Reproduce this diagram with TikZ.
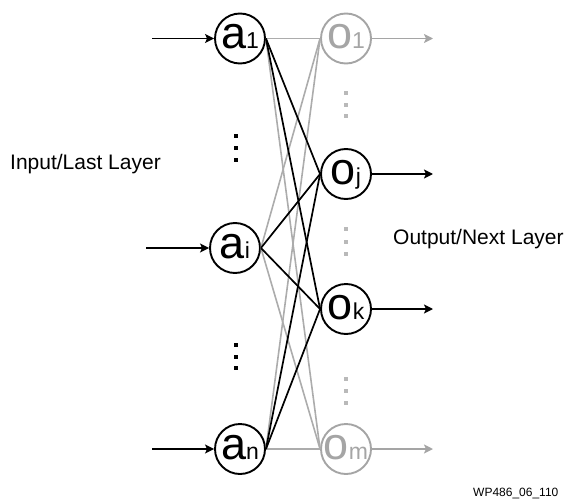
\documentclass[tikz,border=0pt]{standalone}
\usepackage{fontspec}
\setmainfont{Liberation Sans}
\usetikzlibrary{arrows.meta}
\definecolor{ngray}{RGB}{165,165,165}
\definecolor{lgray}{RGB}{172,172,172}
\definecolor{dgray}{RGB}{185,185,185}
\newcommand{\nlab}[2]{{\fontsize{45}{45}\selectfont #1}{\fontsize{23}{23}\selectfont #2}}
\tikzset{
  neuron/.style={circle, draw, line width=1.9pt, minimum size=50pt, inner sep=0pt, text height=20pt, text depth=0pt},
  grayneuron/.style={neuron, draw=ngray, text=ngray},
  conn/.style={line width=1.7pt, black},
  gconn/.style={line width=1.6pt, lgray},
  arr/.style={line width=1.7pt, -{Stealth[length=9pt,width=9pt,inset=2pt]}},
  garr/.style={arr, ngray},
  dotb/.style={fill=black, minimum size=4.5pt, inner sep=0pt, rectangle},
  dotg/.style={fill=dgray, minimum size=4.5pt, inner sep=0pt, rectangle},
  lab/.style={font=\fontsize{21}{22}\selectfont, inner sep=0pt, anchor=base west}
}
\begin{document}
\begin{tikzpicture}[x=1pt,y=-1pt]
\useasboundingbox (0,0) rectangle (564,500);
% nodes
\node[neuron] (a1) at (240,38.5) {\nlab{a}{1}};
\node[neuron] (ai) at (235,248) {\nlab{a}{i}};
\node[neuron] (an) at (240,449) {\nlab{a}{n}};
\node[grayneuron] (o1) at (346,38.5) {\nlab{o}{1}};
\node[neuron] (oj) at (346,174) {\nlab{o}{j}};
\node[neuron] (ok) at (346,309) {\nlab{o}{k}};
\node[grayneuron] (om) at (346,449) {\nlab{o}{m}};
% gray connections
\foreach \s in {a1,ai,an}{
  \draw[gconn] (\s.east) -- (o1.west);
  \draw[gconn] (\s.east) -- (om.west);
}
% black connections
\foreach \s in {a1,ai,an}{
  \draw[conn] (\s.east) -- (oj.west);
  \draw[conn] (\s.east) -- (ok.west);
}
% input arrows
\coordinate (in1) at (152,38.5);
\coordinate (ini) at (146,248);
\coordinate (inn) at (152,449);
\draw[arr] (in1) -- (a1.west);
\draw[arr] (ini) -- (ai.west);
\draw[arr] (inn) -- (an.west);
% output arrows
\coordinate (out1) at (433,38.5);
\coordinate (outj) at (433,174);
\coordinate (outk) at (433,309);
\coordinate (outm) at (433,449);
\draw[garr] (o1.east) -- (out1);
\draw[arr] (oj.east) -- (outj);
\draw[arr] (ok.east) -- (outk);
\draw[garr] (om.east) -- (outm);
% dots
\foreach \y [count=\i] in {136,148,160,345,357,368}
  \node[dotb] (bd\i) at (236,\y) {};
\foreach \y [count=\i] in {93,105,116,229,242,254,379,391,403}
  \node[dotg] (gd\i) at (346,\y) {};
% labels
\node[lab] (inlab) at (10,169.5) {Input/Last Layer};
\node[lab] (outlab) at (393,244.5) {Output/Next Layer};
\node[font=\fontsize{12}{13}\selectfont, inner sep=0pt, anchor=base west] (id) at (473,496) {WP486\_06\_110};
\end{tikzpicture}
\end{document}
